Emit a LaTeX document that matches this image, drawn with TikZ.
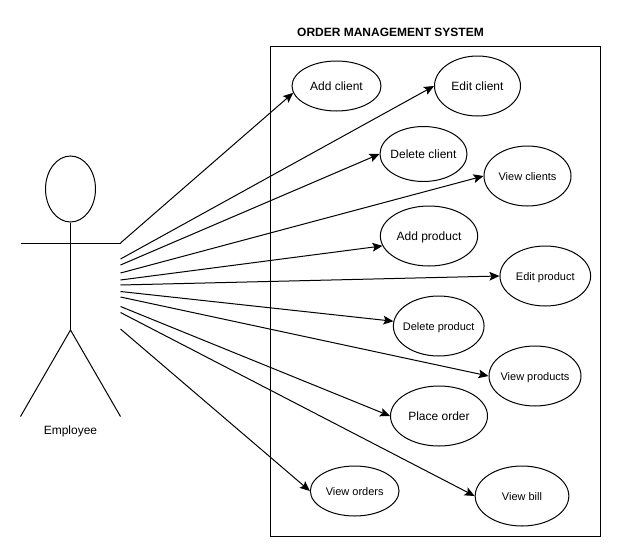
\documentclass[tikz,border=0pt]{standalone}
\usepackage{fontspec}
\setmainfont{Liberation Sans}
\usetikzlibrary{arrows.meta,positioning,shapes.geometric}

\begin{document}
\begin{tikzpicture}[x=0.75pt,y=-0.75pt,font=\fontsize{9}{11}\selectfont]
  %----- styles
  \tikzset{
    usecase/.style  ={draw,ellipse,line width=0.75pt,inner sep=-8pt,align=center,text height=6.5pt,text depth=0pt},
    stick/.style    ={line width=0.75pt},
    arrow/.style    ={-{Stealth[length=7.5pt,width=6.5pt,inset=1.5pt]},line width=0.75pt},
    small/.style    ={font=\fontsize{8.25}{10}\selectfont}
  }
  \useasboundingbox (0,0) rectangle (621,557);

  %----- system box
  \node[draw,line width=0.75pt,minimum width=247.9pt,minimum height=367.5pt,inner sep=0pt] (sys) at (435.5,291.5) {};
  \node[font=\fontsize{9}{11}\selectfont\bfseries] (title) at (390.5,32.5) {ORDER MANAGEMENT SYSTEM};

  %----- actor
  \node[draw,ellipse,line width=0.75pt,minimum width=37.5pt,minimum height=49.5pt,inner sep=0pt] (head) at (70.5,189) {};
  \coordinate (armL) at (20.5,243);
  \coordinate (armR) at (120.5,243);
  \coordinate (hip) at (70.5,330);
  \coordinate (footL) at (20.5,416.5);
  \coordinate (footR) at (120.5,416.5);
  \draw[stick] (head.south) -- (hip);
  \draw[stick] (armL) -- (armR);
  \draw[stick] (footL) -- (hip) -- (footR);
  \node (actor) at (70.5,431) {Employee};

  %----- use cases
  \node[usecase,minimum width=66.75pt,minimum height=37.5pt] (addclient) at (336.5,86) {Add client};
  \node[usecase,minimum width=64.5pt,minimum height=45pt] (editclient) at (477.5,86) {Edit client};
  \node[usecase,minimum width=65.25pt,minimum height=41.25pt] (delclient) at (423.5,154) {Delete client};
  \node[usecase,minimum width=65.25pt,minimum height=45pt,small] (viewclients) at (527.5,176) {View clients};
  \node[usecase,minimum width=73pt,minimum height=45pt] (addproduct) at (429,236) {Add product};
  \node[usecase,minimum width=68pt,minimum height=45pt,small] (editproduct) at (545.3,276) {Edit product};
  \node[usecase,minimum width=68pt,minimum height=45pt,small] (delproduct) at (438.7,326) {Delete product};
  \node[usecase,minimum width=69pt,minimum height=45pt,small] (viewproducts) at (535,376) {View products};
  \node[usecase,minimum width=72.75pt,minimum height=45pt] (placeorder) at (439,416) {Place order};
  \node[usecase,minimum width=66.5pt,minimum height=37.5pt,small] (vieworders) at (354.7,491) {View orders};
  \node[usecase,minimum width=70.25pt,minimum height=45pt,small] (viewbill) at (522,496) {View bill};

  %----- connections
  \draw[arrow] (armR) -- (addclient.189);
  \foreach \y/\uc in {259/editclient.west,265/delclient.west,273/viewclients.west,280/addproduct.192,285/editproduct.west,
                      291.5/delproduct.174,297/viewproducts.west,306.5/placeorder.west,312.5/viewbill.west,329/vieworders.west} {
    \coordinate (from) at (120.5,\y);
    \draw[arrow] (from) -- (\uc);
  }
\end{tikzpicture}
\end{document}
